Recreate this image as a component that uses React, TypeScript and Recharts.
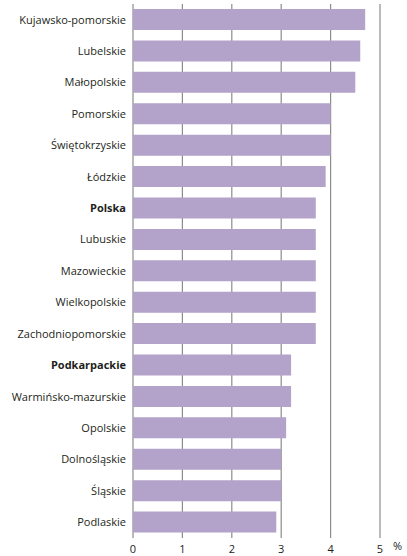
import type { ReactElement } from 'react';
import { Bar, BarChart, CartesianGrid, XAxis, YAxis } from 'recharts';

const regions = [
  'Kujawsko-pomorskie',
  'Lubelskie',
  'Małopolskie',
  'Pomorskie',
  'Świętokrzyskie',
  'Łódzkie',
  'Polska',
  'Lubuskie',
  'Mazowieckie',
  'Wielkopolskie',
  'Zachodniopomorskie',
  'Podkarpackie',
  'Warmińsko-mazurskie',
  'Opolskie',
  'Dolnośląskie',
  'Śląskie',
  'Podlaskie',
];

const shares = [4.7, 4.6, 4.5, 4.0, 4.0, 3.9, 3.7, 3.7, 3.7, 3.7, 3.7, 3.2, 3.2, 3.1, 3.0, 3.0, 2.9];

const boldRegions = ['Polska', 'Podkarpackie'];
const xTicks = [0, 1, 2, 3, 4, 5];

const FONT = '"Open Sans", sans-serif';

function RegionTick(props: any): ReactElement {
  const { x, y, payload } = props;
  const bold = boldRegions.includes(payload.value);
  return (
    <text
      x={x}
      y={y}
      dy="0.355em"
      textAnchor="end"
      fontFamily={FONT}
      fontSize={11}
      fontWeight={bold ? 700 : 400}
      fill="#231f20"
    >
      {payload.value}
    </text>
  );
}

export default function App(): ReactElement {
  const data = regions.map((name, i) => ({ name, value: shares[i] }));

  return (
    <div style={{ position: 'absolute', left: 0, top: 0, background: '#fff' }}>
      <BarChart
        width={407}
        height={556}
        data={data}
        layout="vertical"
        margin={{ top: 4, right: 27, bottom: 0, left: 0 }}
        barCategoryGap={5}
      >
        <CartesianGrid horizontal={false} stroke="#8c8c8c" strokeWidth={1.2} />
        <XAxis
          type="number"
          domain={[0, 5]}
          ticks={xTicks}
          axisLine={false}
          tickLine={false}
          tickMargin={1}
          height={18}
          tick={{ fontFamily: FONT, fontSize: 11, fill: '#231f20' }}
          label={{
            value: '%',
            position: 'right',
            offset: 13,
            dy: -1,
            fontFamily: FONT,
            fontSize: 11,
            fill: '#231f20',
          }}
        />
        <YAxis
          type="category"
          dataKey="name"
          width={133}
          axisLine={false}
          tickLine={false}
          tickSize={0}
          tickMargin={7}
          interval={0}
          tick={<RegionTick />}
        />
        <Bar dataKey="value" fill="#b3a2c9" isAnimationActive={false} />
      </BarChart>
    </div>
  );
}
